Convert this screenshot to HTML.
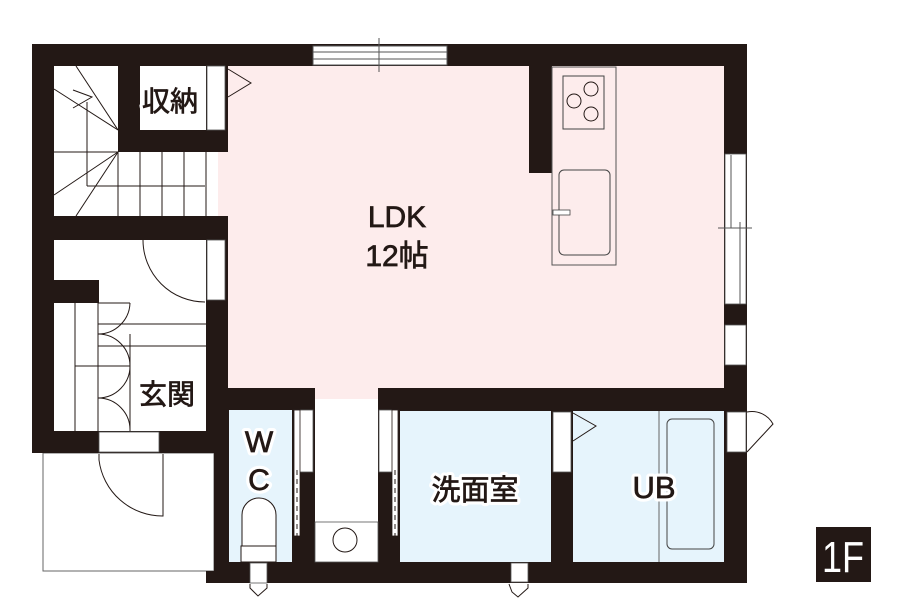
<!DOCTYPE html>
<html><head><meta charset="utf-8"><style>
html,body{margin:0;padding:0;background:#fff;width:900px;height:600px;overflow:hidden}
text{font-family:"Liberation Sans","Noto Sans CJK JP",sans-serif;fill:#231815}
</style></head><body>
<svg width="900" height="600" viewBox="0 0 900 600" xmlns="http://www.w3.org/2000/svg">
<rect x="43" y="453" width="171" height="118" fill="#fff" stroke="#666" stroke-width="1"/>
<rect x="32" y="44" width="715" height="366" fill="#231815"/>
<rect x="32" y="400" width="196" height="53" fill="#231815"/>
<rect x="214" y="400" width="533" height="183" fill="#231815"/>
<rect x="206" y="571" width="10" height="12" fill="#231815"/>
<rect x="228" y="66" width="496" height="322" fill="#fdecec"/>
<rect x="315" y="386" width="63" height="13" fill="#fdecec"/>
<rect x="218" y="152" width="12" height="64" fill="#fdecec"/>
<rect x="529" y="66" width="23" height="107" fill="#231815"/>
<rect x="54" y="66" width="64" height="150" fill="#fff"/>
<rect x="118" y="152" width="100" height="64" fill="#fff"/>
<g stroke="#231815" stroke-width="1" fill="none">
<line x1="54" y1="152" x2="118" y2="152"/>
<line x1="87" y1="102" x2="87" y2="186"/>
<line x1="87" y1="186" x2="205" y2="186"/>
<line x1="118" y1="152" x2="118" y2="216"/>
<line x1="140" y1="152" x2="140" y2="216"/>
<line x1="162" y1="152" x2="162" y2="216"/>
<line x1="184" y1="152" x2="184" y2="216"/>
<line x1="206" y1="152" x2="206" y2="216"/>
<line x1="76" y1="66" x2="118" y2="130"/>
<line x1="54" y1="89" x2="118" y2="130"/>
<line x1="118" y1="152" x2="54" y2="195"/>
<line x1="118" y1="152" x2="76" y2="216"/>
<polyline points="73,90 92,97 73,108"/>
</g>
<rect x="140" y="66" width="66" height="64" fill="#fff"/>
<rect x="207" y="66" width="18" height="64" fill="#fff" stroke="#555" stroke-width="0.8"/>
<polyline points="228,69 251,83 228,97" fill="none" stroke="#231815" stroke-width="1"/>
<rect x="313" y="46" width="134" height="19" fill="#fff" stroke="#555" stroke-width="1"/>
<line x1="313" y1="52" x2="447" y2="52" stroke="#555"/>
<line x1="313" y1="59" x2="447" y2="59" stroke="#555"/>
<line x1="379" y1="38" x2="379" y2="72" stroke="#555" stroke-width="1"/>
<rect x="725" y="154" width="21" height="150" fill="#fff" stroke="#555" stroke-width="0.8"/>
<line x1="731" y1="155" x2="731" y2="228" stroke="#555"/>
<line x1="740" y1="222" x2="740" y2="304" stroke="#555"/>
<line x1="718" y1="228" x2="752" y2="228" stroke="#555"/>
<rect x="725" y="325" width="21" height="40" fill="#fff" stroke="#555" stroke-width="0.8"/>
<rect x="552" y="67" width="64" height="198" fill="#fdecec" stroke="#555" stroke-width="1"/>
<rect x="563" y="76" width="41" height="53" fill="none" stroke="#444" stroke-width="1"/>
<circle cx="591" cy="89" r="7" fill="none" stroke="#231815"/>
<circle cx="574" cy="101" r="7" fill="none" stroke="#231815"/>
<circle cx="591" cy="114" r="7" fill="none" stroke="#231815"/>
<rect x="559" y="170" width="51" height="85" rx="5" fill="none" stroke="#444"/>
<rect x="553" y="210" width="17" height="5" fill="#fff" stroke="#444" stroke-width="0.8"/>
<rect x="54" y="240" width="152" height="191" fill="#fff"/>
<rect x="54" y="280" width="45" height="23" fill="#231815"/>
<rect x="207" y="240" width="18" height="60" fill="#fff" stroke="#555" stroke-width="0.8"/>
<g stroke="#231815" stroke-width="1" fill="none">
<path d="M143,240 A62,62 0 0 0 205,302"/>
<line x1="75" y1="303" x2="75" y2="431"/>
<line x1="98" y1="303" x2="98" y2="431"/>
<line x1="75" y1="366" x2="130" y2="366"/>
<line x1="98" y1="324" x2="206" y2="324"/>
<line x1="98" y1="346" x2="206" y2="346"/>
<line x1="98" y1="303" x2="130" y2="303"/>
<path d="M130,303 A32,32 0 0 1 98,334"/>
<path d="M98,334 A32,32 0 0 1 98,398"/>
<path d="M98,398 A32,32 0 0 1 130,431"/>
<line x1="130" y1="334" x2="130" y2="431"/>
</g>
<rect x="99" y="432" width="60" height="20" fill="#fff" stroke="#555" stroke-width="0.8"/>
<path d="M99,454 L99,460 A64,64 0 0 0 163,516 L163,454" fill="none" stroke="#231815" stroke-width="1"/>
<rect x="229" y="410" width="63" height="152" fill="#e6f4fc"/>
<path d="M242,562 L242,515 A17,17 0 0 1 276,515 L276,562" fill="#fff" stroke="#231815"/>
<rect x="241" y="546" width="35" height="16" fill="#fff" stroke="#231815"/>
<rect x="250" y="563" width="17" height="20" fill="#fff" stroke="#555" stroke-width="0.8"/>
<path d="M250,584 L250,588 L258,596 L267,588 L267,584" fill="#fff" stroke="#231815"/>
<rect x="294" y="410" width="19" height="62" fill="#fff" stroke="#555" stroke-width="0.8"/>
<rect x="294" y="410" width="6" height="126" fill="#fff" stroke="#231815" stroke-width="0.8"/>
<line x1="297" y1="470" x2="297" y2="536" stroke="#231815" stroke-dasharray="5,4"/>
<rect x="315" y="399" width="63" height="163" fill="#fff"/>
<rect x="315" y="522" width="63" height="40" fill="#fff" stroke="#555" stroke-width="0.8"/>
<circle cx="345" cy="540" r="12" fill="none" stroke="#231815"/>
<rect x="379" y="410" width="19" height="62" fill="#fff" stroke="#555" stroke-width="0.8"/>
<rect x="392" y="410" width="6" height="126" fill="#fff" stroke="#231815" stroke-width="0.8"/>
<line x1="395" y1="470" x2="395" y2="536" stroke="#231815" stroke-dasharray="5,4"/>
<rect x="400" y="411" width="151" height="151" fill="#e6f4fc"/>
<rect x="511" y="563" width="17" height="19" fill="#fff" stroke="#555" stroke-width="0.8"/>
<path d="M509,584 L512,592 L518,597 L528,588 L528,584" fill="#fff" stroke="#231815"/>
<rect x="573" y="411" width="151" height="151" fill="#e6f4fc"/>
<rect x="553" y="412" width="18" height="60" fill="#fff" stroke="#555" stroke-width="0.8"/>
<polyline points="573,413 596,426 573,441" fill="none" stroke="#231815"/>
<line x1="659" y1="411" x2="659" y2="562" stroke="#666"/>
<rect x="667" y="419" width="47" height="130" rx="5" fill="none" stroke="#444"/>
<rect x="727" y="412" width="19" height="40" fill="#fff" stroke="#555" stroke-width="0.8"/>
<path d="M747,412 A24,24 0 0 1 773,424 L747,452" fill="#fff" stroke="#231815"/>
<g stroke="#fff" stroke-width="7" stroke-linejoin="round" style="fill:#fff">
<text x="170" y="111" font-size="28" text-anchor="middle">収納</text>
<text x="167" y="404" font-size="28" text-anchor="middle">玄関</text>
<text x="259" y="452" font-size="30" text-anchor="middle">W</text>
<text x="259" y="490" font-size="30" text-anchor="middle">C</text>
<text x="475" y="500" font-size="29" text-anchor="middle">洗面室</text>
<text x="654" y="498" font-size="31" text-anchor="middle">UB</text>
</g>
<g stroke="#231815" stroke-width="0.7">
<text x="170" y="111" font-size="28" text-anchor="middle">収納</text>
<text x="167" y="404" font-size="28" text-anchor="middle">玄関</text>
<text x="259" y="452" font-size="30" text-anchor="middle">W</text>
<text x="259" y="490" font-size="30" text-anchor="middle">C</text>
<text x="475" y="500" font-size="29" text-anchor="middle">洗面室</text>
<text x="654" y="498" font-size="31" text-anchor="middle">UB</text>
<text x="397" y="227" font-size="30" text-anchor="middle">LDK</text>
<text x="397" y="266" font-size="30" text-anchor="middle">12帖</text>
</g>
<rect x="816" y="527" width="55" height="55" fill="#231815"/>
<text x="843" y="572" font-size="44" text-anchor="middle" style="fill:#fff" textLength="42" lengthAdjust="spacingAndGlyphs">1F</text>
</svg>
</body></html>
